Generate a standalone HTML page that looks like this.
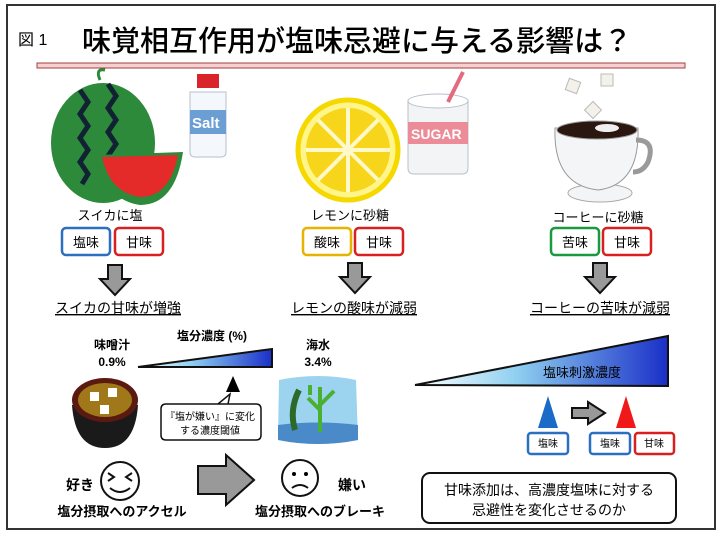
<!DOCTYPE html>
<html><head><meta charset="utf-8"><style>
body{margin:0;background:#fff}
svg text{font-family:"Liberation Sans","Noto Sans CJK JP",sans-serif}
</style></head><body>
<svg width="720" height="539" viewBox="0 0 720 539" xmlns="http://www.w3.org/2000/svg">
<defs>
<linearGradient id="g1" x1="0" x2="1" y1="0" y2="0"><stop offset="0" stop-color="#fff"/><stop offset="0.4" stop-color="#8fd0f0"/><stop offset="1" stop-color="#1a2fc8"/></linearGradient>
</defs>
<rect x="7" y="5" width="708" height="524" fill="#fff" stroke="#333" stroke-width="2"/>
<text x="18" y="45" font-size="16">図 1</text>
<text x="82" y="51" font-size="29" font-weight="500">味覚相互作用が塩味忌避に与える影響は？</text>
<rect x="37" y="63" width="648" height="5" fill="#f6d0d0" stroke="#a04040" stroke-width="1"/>

<!-- watermelon -->
<ellipse cx="103" cy="143" rx="52" ry="60" fill="#2c8a3a"/>
<path d="M80 90 l8 12 -8 12 8 12 -8 12 8 12 -8 12 8 12 -6 10" stroke="#123" stroke-width="5" fill="none"/>
<path d="M108 84 l8 12 -8 12 8 12 -8 12 8 12 -8 12 8 12" stroke="#123" stroke-width="5" fill="none"/>
<path d="M100 80 q-5 -12 5 -10" stroke="#2c8a3a" stroke-width="3" fill="none"/>
<path d="M97 155 L183 152 Q175 205 140 205 Q105 200 97 155Z" fill="#2c8a3a"/>
<path d="M102 157 L178 155 Q170 197 140 197 Q110 193 102 157Z" fill="#e52a2a"/>
<!-- salt -->
<rect x="197" y="74" width="22" height="14" fill="#d8242a"/>
<path d="M190 92 h36 v60 q0 5 -5 5 h-26 q-5 0 -5 -5z" fill="#f4f7fb" stroke="#b8c2cc"/>
<rect x="190" y="110" width="36" height="24" fill="#6b9fd4"/>
<text x="192" y="128" font-size="15" font-weight="bold" fill="#fff">Salt</text>
<!-- lemon -->
<circle cx="348" cy="150" r="50" fill="#fff58a" stroke="#f5d800" stroke-width="5"/>
<circle cx="348" cy="150" r="42" fill="#f6d51a"/>
<g stroke="#fff8c8" stroke-width="4"><line x1="348" y1="108" x2="348" y2="192"/><line x1="306" y1="150" x2="390" y2="150"/><line x1="318" y1="120" x2="378" y2="180"/><line x1="378" y1="120" x2="318" y2="180"/></g>
<!-- sugar -->
<path d="M408 100 h60 v68 q0 6 -6 6 h-48 q-6 0 -6 -6z" fill="#f2f4f6" stroke="#b8c0c8"/>
<ellipse cx="438" cy="101" rx="30" ry="7" fill="#fff" stroke="#b8c0c8"/>
<line x1="448" y1="102" x2="463" y2="72" stroke="#e46a80" stroke-width="4"/>
<rect x="408" y="122" width="60" height="22" fill="#ec8c98"/>
<text x="411" y="139" font-size="14" font-weight="bold" fill="#fff">SUGAR</text>
<!-- coffee -->
<rect x="567" y="80" width="12" height="12" fill="#f4f0ea" stroke="#bbb" transform="rotate(20 573 86)"/>
<rect x="601" y="74" width="12" height="12" fill="#f4f0ea" stroke="#bbb"/>
<rect x="587" y="104" width="12" height="12" fill="#f4f0ea" stroke="#bbb" transform="rotate(45 593 110)"/>
<ellipse cx="600" cy="193" rx="32" ry="9" fill="#f3f4f6" stroke="#aaa"/>
<path d="M555 128 Q553 185 598 190 Q640 185 638 128Z" fill="#f4f5f6" stroke="#9a9a9a"/>
<path d="M636 140 q20 0 12 22 q-5 10 -15 10" stroke="#9a9a9a" stroke-width="5" fill="none"/>
<ellipse cx="597" cy="130" rx="40" ry="9" fill="#2a1810" stroke="#9a9a9a"/>
<ellipse cx="607" cy="128" rx="12" ry="4" fill="#eee"/>

<g font-size="13" text-anchor="middle">
<text x="110" y="220">スイカに塩</text>
<text x="350" y="220">レモンに砂糖</text>
<text x="598" y="222">コーヒーに砂糖</text>
</g>
<g fill="#fff" stroke-width="2.5">
<rect x="62" y="228" width="48" height="27" rx="4" stroke="#2b6fc0"/>
<rect x="115" y="228" width="48" height="27" rx="4" stroke="#d92020"/>
<rect x="303" y="228" width="48" height="27" rx="4" stroke="#e6b300"/>
<rect x="355" y="228" width="48" height="27" rx="4" stroke="#d92020"/>
<rect x="551" y="228" width="48" height="27" rx="4" stroke="#1a9a40"/>
<rect x="603" y="228" width="48" height="27" rx="4" stroke="#d92020"/>
</g>
<g font-size="13" text-anchor="middle">
<text x="86" y="247">塩味</text><text x="139" y="247">甘味</text>
<text x="327" y="247">酸味</text><text x="379" y="247">甘味</text>
<text x="575" y="247">苦味</text><text x="627" y="247">甘味</text>
</g>
<g fill="#999" stroke="#111" stroke-width="2">
<path d="M108 265 h14 v14 h8 l-15 16 -15 -16 h8z"/>
<path d="M348 263 h14 v14 h8 l-15 16 -15 -16 h8z"/>
<path d="M593 263 h14 v14 h8 l-15 16 -15 -16 h8z"/>
</g>
<g font-size="14" text-anchor="middle" text-decoration="underline">
<text x="118" y="313">スイカの甘味が増強</text>
<text x="354" y="313">レモンの酸味が減弱</text>
<text x="600" y="313">コーヒーの苦味が減弱</text>
</g>

<!-- bottom left -->
<g font-size="12" font-weight="bold" text-anchor="middle">
<text x="112" y="349">味噌汁</text><text x="112" y="366">0.9%</text>
<text x="212" y="340">塩分濃度 (%)</text>
<text x="318" y="349">海水</text><text x="318" y="366">3.4%</text>
</g>
<path d="M138 367 L272 349 L272 367Z" fill="url(#g1)" stroke="#111" stroke-width="2"/>
<path d="M233 376 L240 392 L226 392Z" fill="#000"/>
<path d="M166 404 h90 q5 0 5 5 v26 q0 5 -5 5 h-90 q-5 0 -5 -5 v-26 q0 -5 5 -5 h52 l12 -10 -2 10z" fill="#fff" stroke="#111" stroke-width="1.5"/>
<text x="210" y="420" font-size="10" text-anchor="middle">『塩が嫌い』に変化</text>
<text x="210" y="434" font-size="10" text-anchor="middle">する濃度閾値</text>
<!-- miso -->
<path d="M72 405 Q75 448 105 448 Q135 448 138 405Z" fill="#1a1a1a"/>
<ellipse cx="105" cy="400" rx="33" ry="22" fill="#5a1a10"/>
<ellipse cx="105" cy="400" rx="27" ry="17" fill="#a0781a"/>
<rect x="90" y="392" width="9" height="9" fill="#fff"/><rect x="108" y="388" width="9" height="9" fill="#fff"/><rect x="100" y="405" width="9" height="9" fill="#fff"/>
<!-- sea -->
<path d="M279 380 Q318 372 356 380 L358 440 Q318 448 278 440Z" fill="#9cd3ef"/>
<path d="M278 425 Q318 420 358 425 L358 440 Q318 448 278 440Z" fill="#4a8ac8"/>
<path d="M295 430 q-6 -20 4 -40" stroke="#2d6a2a" stroke-width="6" fill="none"/>
<path d="M320 432 v-45 M320 410 l-12 -12 M320 405 l14 -14 M310 395 v-10" stroke="#4ab030" stroke-width="4" fill="none"/>
<!-- faces -->
<circle cx="120" cy="481" r="19" fill="#fff" stroke="#111" stroke-width="2"/>
<path d="M108 473 l6 4 -6 4 M132 473 l-6 4 6 4 M110 488 q10 8 20 0" stroke="#111" stroke-width="2" fill="none"/>
<text x="80" y="490" font-size="14" font-weight="bold" text-anchor="middle">好き</text>
<path d="M198 466 h28 v-11 l28 25 -28 25 v-11 h-28z" fill="#999" stroke="#111" stroke-width="2"/>
<circle cx="300" cy="478" r="18" fill="#fff" stroke="#111" stroke-width="2"/>
<circle cx="294" cy="474" r="2"/><circle cx="306" cy="474" r="2"/>
<path d="M292 488 q8 -6 16 0" stroke="#111" stroke-width="2" fill="none"/>
<text x="352" y="490" font-size="14" font-weight="bold" text-anchor="middle">嫌い</text>
<text x="122" y="516" font-size="13" font-weight="bold" text-anchor="middle">塩分摂取へのアクセル</text>
<text x="320" y="516" font-size="13" font-weight="bold" text-anchor="middle">塩分摂取へのブレーキ</text>

<!-- right -->
<path d="M415 385 L668 336 L668 386Z" fill="url(#g1)" stroke="#111" stroke-width="2"/>
<text x="582" y="377" font-size="13" text-anchor="middle">塩味刺激濃度</text>
<path d="M548 396 L558 428 L538 428Z" fill="#1a6ac8"/>
<path d="M572 408 h16 v-6 l17 11 -17 11 v-6 h-16z" fill="#999" stroke="#111" stroke-width="2"/>
<path d="M626 396 L636 428 L616 428Z" fill="#f01818"/>
<g fill="#fff" stroke-width="2.5">
<rect x="528" y="433" width="40" height="21" rx="3" stroke="#2b6fc0"/>
<rect x="590" y="433" width="40" height="21" rx="3" stroke="#2b6fc0"/>
<rect x="635" y="433" width="39" height="21" rx="3" stroke="#d92020"/>
</g>
<g font-size="10" text-anchor="middle">
<text x="548" y="447">塩味</text><text x="610" y="447">塩味</text><text x="654" y="447">甘味</text>
</g>
<rect x="422" y="473" width="254" height="50" rx="8" fill="#fff" stroke="#111" stroke-width="2"/>
<text x="549" y="495" font-size="14" text-anchor="middle">甘味添加は、高濃度塩味に対する</text>
<text x="549" y="515" font-size="14" text-anchor="middle">忌避性を変化させるのか</text>
</svg>
</body></html>
